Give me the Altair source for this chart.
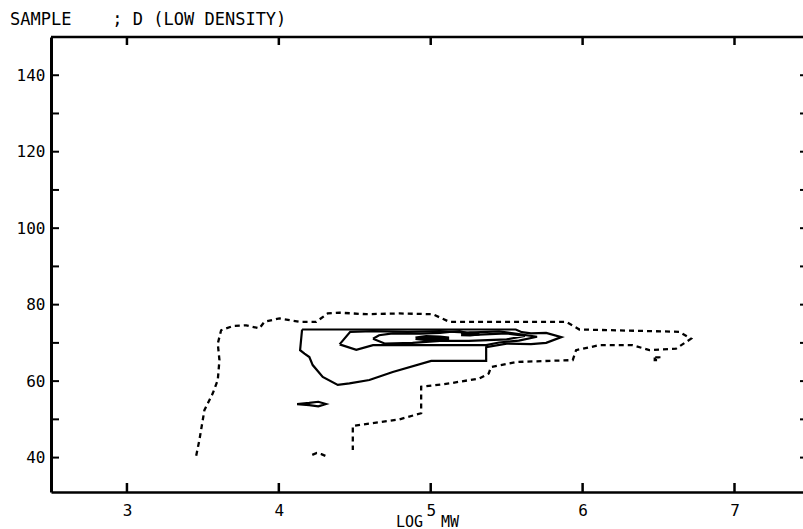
import altair as alt
import pandas as pd

FONT = "DejaVu Sans Mono"
NB = "\u00a0"
TITLE = "SAMPLE" + NB * 4 + "; D (LOW DENSITY)"
X_TITLE = "LOG" + NB * 2 + "MW"
X_LABELS = [3, 4, 5, 6, 7]
Y_LABELS = [40, 60, 80, 100, 120, 140]
Y_TICKS = [40, 50, 60, 70, 80, 90, 100, 110, 120, 130, 140]
X_DOMAIN = [2.5, 7.451]
Y_DOMAIN = [31, 150]

# outermost (dashed) contour
OUTER_X = [3.456, 3.477, 3.51, 3.565, 3.598, 3.609, 3.598, 3.62, 3.697, 3.785, 3.872,
           3.905, 4.004, 4.136, 4.246, 4.322, 4.399, 4.575, 4.794, 5.013, 5.123, 5.891,
           5.979, 6.637, 6.714, 6.615, 6.44, 6.33, 6.11, 5.957, 5.935, 5.562, 5.397,
           5.382, 5.32, 5.123, 4.937, 4.937, 4.794, 4.487, 4.487]
OUTER_Y = [40.5, 44.6, 52.4, 56.8, 60.3, 65.5, 69.8, 73.3, 74.4, 74.6, 73.8,
           75.5, 76.4, 75.5, 75.5, 77.7, 77.9, 77.5, 77.7, 77.5, 75.5, 75.5,
           73.5, 72.9, 71.1, 68.5, 68.1, 69.4, 69.4, 68.1, 65.5, 65.0, 63.7,
           62.0, 60.7, 59.4, 58.5, 51.6, 50.0, 48.3, 42.0]
# small dashed fragments
FRAG1_X = [4.22, 4.25, 4.28, 4.31]
FRAG1_Y = [40.7, 41.2, 40.9, 40.4]
FRAG2_X = [6.475, 6.475, 6.505, 6.505, 6.475]
FRAG2_Y = [66.2, 65.5, 65.5, 66.2, 66.2]

# second level (solid)
L2_X = [4.153, 5.56, 5.60, 5.66, 5.76, 5.86, 5.76, 5.66, 5.50, 5.365, 5.365, 5.003,
        4.75, 4.596, 4.465, 4.388, 4.289, 4.223, 4.201, 4.169, 4.14, 4.153]
L2_Y = [73.5, 73.5, 72.8, 72.5, 72.6, 71.5, 70.0, 69.7, 69.8, 68.9, 65.3, 65.3,
        62.4, 60.3, 59.4, 59.0, 61.1, 64.2, 66.3, 67.2, 68.1, 73.5]
# isolated small contour on the left
DIA_X = [4.12, 4.20, 4.26, 4.31, 4.26, 4.20, 4.12]
DIA_Y = [54.0, 54.3, 54.6, 54.0, 53.4, 53.7, 54.0]

# third level (solid)
L3_X = [4.40, 4.47, 4.62, 4.85, 5.06, 5.25, 5.45, 5.58, 5.70, 5.58, 5.45, 5.365,
        5.10, 4.80, 4.62, 4.51, 4.40]
L3_Y = [69.6, 72.9, 73.1, 72.9, 73.1, 72.7, 73.0, 72.3, 71.6, 70.6, 70.1, 69.4,
        69.4, 69.4, 69.4, 68.2, 69.6]

# fourth level (solid)
L4_X = [4.62, 4.66, 4.75, 4.93, 5.06, 5.19, 5.28, 5.50, 5.62, 5.50, 5.25, 5.06,
        4.88, 4.70, 4.62]
L4_Y = [71.1, 72.0, 72.5, 72.4, 72.6, 73.1, 72.1, 72.5, 71.8, 70.9, 70.5, 70.5,
        70.0, 69.8, 71.1]

# innermost (peak) contours
P1_X = [4.90, 4.97, 5.06, 5.12, 5.06, 4.97, 4.90]
P1_Y = [71.2, 71.6, 71.5, 71.2, 70.9, 70.9, 71.2]
P2_X = [5.20, 5.26, 5.32, 5.26, 5.20]
P2_Y = [72.2, 72.5, 72.4, 72.1, 72.2]


def frame(series):
    rows = []
    for name, xs_, ys_ in series:
        for i, (x, y) in enumerate(zip(xs_, ys_)):
            rows.append({"id": name, "i": i, "x": x, "y": y})
    return pd.DataFrame(rows)


dashed_df = frame([("outer", OUTER_X, OUTER_Y), ("f1", FRAG1_X, FRAG1_Y),
                   ("f2", FRAG2_X, FRAG2_Y)])
solid_df = frame([("l2", L2_X, L2_Y), ("dia", DIA_X, DIA_Y),
                  ("l3", L3_X, L3_Y), ("l4", L4_X, L4_Y)])
peak_df = frame([("p1", P1_X, P1_Y), ("p2", P2_X, P2_Y)])

W, H = 752, 455
xs = alt.Scale(domain=X_DOMAIN, nice=False, zero=False)
ys = alt.Scale(domain=Y_DOMAIN, nice=False, zero=False)

xaxis = alt.Axis(values=X_LABELS, format="d", title=X_TITLE, grid=False, ticks=False,
                 tickSize=0, labelPadding=23, labelBaseline="alphabetic",
                 domainWidth=2.5, domainColor="black", labelFont=FONT,
                 labelFontSize=16, labelColor="black", titleFont=FONT,
                 titleFontSize=15, titleFontWeight="normal", titleColor="black",
                 titleY=34, titleBaseline="alphabetic")
yaxis = alt.Axis(values=Y_LABELS, format="d", title=None, grid=False, ticks=False,
                 tickSize=0, labelPadding=6, domainWidth=3, domainColor="black",
                 labelFont=FONT, labelFontSize=16, labelColor="black")

enc = dict(x=alt.X("x:Q", scale=xs, axis=xaxis),
           y=alt.Y("y:Q", scale=ys, axis=yaxis),
           detail="id:N", order="i:Q")

dashed = alt.Chart(dashed_df).mark_line(color="black", strokeWidth=2.3,
                                        strokeDash=[5, 4]).encode(**enc)
solid = alt.Chart(solid_df).mark_line(color="black", strokeWidth=2.2).encode(**enc)
peak = alt.Chart(peak_df).mark_line(color="black", strokeWidth=3.5).encode(**enc)

ytick_df = pd.DataFrame({"y": Y_TICKS})
xtick_df = pd.DataFrame({"x": X_LABELS})
one = pd.DataFrame({"v": [0]})

left_ticks = alt.Chart(ytick_df).mark_rule(color="black", strokeWidth=2).encode(
    y=alt.Y("y:Q", scale=ys, axis=yaxis), x=alt.value(0), x2=alt.value(8))
right_ticks = alt.Chart(ytick_df).mark_rule(color="black", strokeWidth=2).encode(
    y=alt.Y("y:Q", scale=ys, axis=yaxis), x=alt.value(W - 3), x2=alt.value(W))
bottom_ticks = alt.Chart(xtick_df).mark_rule(color="black", strokeWidth=2.5).encode(
    x=alt.X("x:Q", scale=xs, axis=xaxis), y=alt.value(H - 9), y2=alt.value(H))
top_ticks = alt.Chart(xtick_df).mark_rule(color="black", strokeWidth=2.5).encode(
    x=alt.X("x:Q", scale=xs, axis=xaxis), y=alt.value(0), y2=alt.value(8))
top_frame = alt.Chart(one).mark_rule(color="black", strokeWidth=2.5).encode(
    x=alt.value(0), x2=alt.value(W), y=alt.value(0))
title = alt.Chart(one).mark_text(align="left", baseline="alphabetic", font=FONT,
                                 fontSize=17, color="black").encode(
    x=alt.value(-41), y=alt.value(-12), text=alt.value(TITLE))

chart = alt.layer(
    dashed, solid, peak, left_ticks, right_ticks, bottom_ticks, top_ticks,
    top_frame, title
).properties(
    width=W, height=H,
    autosize=alt.AutoSizeParams(type="none"),
    padding={"left": 51, "top": 37, "right": 0, "bottom": 37},
    background="white",
).configure_view(stroke=None)

chart.save("out.html", embed_options={"renderer": "svg", "actions": False})
